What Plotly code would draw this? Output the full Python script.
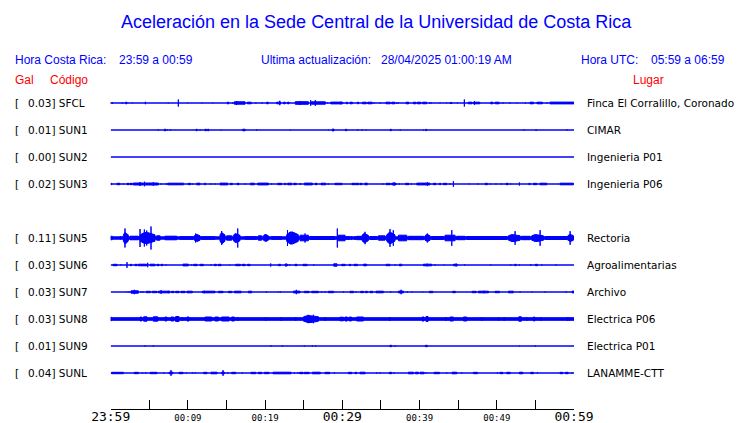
import plotly.graph_objects as go

# ---------------- data ----------------
TITLE = "Aceleración en la Sede Central de la Universidad de Costa Rica"
HORA_CR = "23:59 a 00:59"
ACTUALIZACION = "28/04/2025 01:00:19 AM"
HORA_UTC = "05:59 a 06:59"

CODES = ["SFCL", "SUN1", "SUN2", "SUN3", "SUN4", "SUN5", "SUN6", "SUN7", "SUN8", "SUN9", "SUNL"]
PEAK_GAL = [0.03, 0.01, 0.00, 0.02, None, 0.11, 0.03, 0.03, 0.03, 0.01, 0.04]
PLACES = ["Finca El Corralillo, Coronado", "CIMAR", "Ingenieria P01", "Ingenieria P06", None,
          "Rectoria", "Agroalimentarias", "Archivo", "Electrica P06", "Electrica P01", "LANAMME-CTT"]
# background noise level of each record (relative amplitude)
NOISE = [0.3, 0.3, 0.3, 0.3, None, 1.7, 0.3, 0.3, 1.8, 0.3, 0.3]

# minutes after 23:59 (start, end, relative amplitude) of each burst of motion
SFCL = [(0.0, 0.0, 1.3), (0.21, 0.21, 1.3), (1.51, 1.51, 1), (1.94, 2.1, 1.3), (2.8, 2.8, 0.8),
        (4.49, 4.49, 1.7), (7.46, 7.46, 0.8), (8.76, 8.76, 4), (9.97, 9.97, 0.8), (11.8, 11.8, 0.8),
        (13.2, 13.2, 0.8), (15.1, 15.3, 1.3), (15.8, 15.8, 1), (16.0, 17.4, 1.7), (16.3, 16.3, 2.5),
        (17.7, 18.2, 1.3), (18.8, 18.8, 1), (19.6, 19.6, 1), (20.2, 20.4, 1.3), (21.5, 22.0, 1.3),
        (21.9, 21.9, 2.7), (22.4, 22.6, 1.3), (22.9, 23.1, 1.3), (23.9, 25.6, 1.8), (24.5, 24.5, 2.5),
        (25.9, 25.9, 3.3), (26.5, 26.5, 3.3), (26.0, 27.8, 1.7), (28.1, 28.1, 1), (28.5, 29.9, 1.4),
        (29.7, 30.05, 1.3), (30.5, 30.65, 1.3), (31.0, 31.3, 1.3), (31.95, 32.1, 1.3), (32.6, 33.1, 1.3),
        (33.3, 33.85, 1.3), (34.1, 34.1, 1), (34.9, 34.9, 1), (35.65, 36.2, 1.3), (36.4, 36.8, 1.3),
        (37.05, 37.05, 1), (37.25, 37.25, 1), (38.25, 38.6, 1.3), (39.2, 39.5, 1.3), (39.7, 40.15, 1.3),
        (40.4, 40.9, 1.3), (41.3, 41.3, 1), (41.5, 41.5, 1), (42.65, 42.65, 0.8), (43.5, 43.5, 0.8),
        (43.95, 44.2, 1), (44.9, 44.9, 0.8), (45.8, 45.8, 4), (46.3, 46.8, 1.3), (47.0, 47.8, 1.3),
        (47.1, 47.1, 2.3), (49.2, 49.5, 1.3), (49.8, 50.3, 1.3), (50.8, 50.8, 1), (51.7, 51.7, 1),
        (52.6, 52.6, 0.8), (53.7, 53.7, 1), (54.3, 54.75, 1.3), (55.2, 55.9, 1.3), (56.5, 56.5, 1),
        (56.9, 60.0, 1.4)]

SUN1 = [(6.17, 6.17, 1), (6.95, 7.12, 1.3), (7.34, 7.34, 1), (7.72, 7.72, 1), (11.05, 11.2, 1.2),
        (11.57, 11.57, 1), (12.2, 12.4, 1.2), (12.56, 12.7, 1.3), (14.3, 14.3, 0.8), (17.1, 17.4, 1.3),
        (18.9, 18.9, 1), (23.3, 23.3, 0.8), (28.2, 28.2, 0.8), (28.7, 28.9, 1.5),
        (30.4, 30.57, 1.2), (32.0, 32.0, 1), (32.55, 32.55, 1), (33.07, 33.07, 0.8), (36.2, 36.35, 1.2),
        (37.5, 37.5, 1), (40.5, 40.5, 0.8), (40.8, 40.9, 1.2), (53.5, 53.5, 1), (55.0, 55.2, 0.8),
        (59.1, 59.1, 1)]

SUN2 = []

SUN3 = [(0.0, 0.13, 1.2), (0.82, 1.2, 1.2), (1.64, 1.64, 1), (2.11, 2.37, 1.2), (2.5, 2.8, 1.2),
        (2.93, 4.23, 1.5), (3.8, 3.8, 2.5), (4.36, 4.36, 2.8), (4.36, 6.17, 1.5), (5.52, 5.52, 2.2),
        (6.52, 6.52, 1), (7.16, 7.16, 1), (7.38, 9.45, 1.3), (10.05, 10.31, 1.2), (10.57, 10.57, 1),
        (11.13, 11.57, 1.3), (12.13, 12.3, 1.2), (12.99, 12.99, 1), (13.5, 13.5, 1), (14.16, 15.15, 1.4),
        (15.5, 15.75, 1.2), (16.36, 16.62, 1.2), (17.4, 17.4, 1), (18.09, 18.6, 1.3), (19.04, 20.42, 1.4),
        (20.85, 20.85, 1), (21.63, 22.15, 1.2), (22.49, 22.66, 1.2), (22.92, 23.44, 1.3), (23.7, 24.04, 1.2),
        (24.5, 24.6, 1), (25.08, 26.12, 1.4), (26.46, 26.72, 1.2), (27.24, 27.85, 1.3), (28.19, 28.19, 1),
        (29.05, 29.66, 1.2),
        (29.7, 29.96, 1.2), (31.25, 31.6, 1.2), (31.69, 32.12, 1.2), (32.3, 32.55, 1.2), (32.9, 33.25, 1.3),
        (35.23, 35.23, 1), (35.67, 36.2, 1.2), (36.4, 36.96, 1.3), (36.7, 36.7, 2.2), (37.39, 37.39, 1),
        (38.17, 38.6, 1.2), (38.94, 38.94, 1), (39.64, 41.35, 1.4), (41.0, 41.0, 2.2), (41.78, 42.13, 1.2),
        (42.56, 42.74, 1.2), (43.09, 43.52, 1.2), (43.95, 43.95, 1), (44.38, 44.38, 3.3), (46.45, 46.45, 0.8),
        (47.58, 47.58, 1), (48.5, 48.79, 1.2), (49.13, 49.13, 1), (49.91, 49.91, 1), (50.6, 50.6, 1),
        (51.2, 51.47, 1.2), (51.8, 51.8, 1), (52.93, 52.93, 2), (54.15, 54.3, 1.2), (54.75, 55.18, 1.2),
        (55.6, 56.47, 1.3), (58.2, 59.9, 1.3)]

SUN4 = None

SUN5 = [(0.0, 0.2, 2.3), (1.2, 1.33, 1.7), (1.64, 2.28, 6), (1.85, 1.85, 10), (2.5, 3.58, 2.3),
        (3.8, 3.8, 9.5), (3.8, 5.74, 6), (4.36, 4.36, 9), (4.66, 4.66, 8), (5.22, 5.22, 12),
        (5.95, 6.4, 2.7), (7.03, 8.55, 2.3), (8.98, 10.7, 1.8), (10.83, 11.57, 4), (11.0, 11.0, 5),
        (11.78, 13.5, 1.8), (14.16, 14.8, 6), (14.37, 14.37, 7.5), (15.02, 15.67, 2.7), (15.88, 16.75, 5),
        (16.45, 16.45, 10), (17.4, 18.9, 1.8), (19.12, 19.55, 2.7), (19.77, 20.42, 4), (20.85, 22.15, 1.8),
        (22.79, 24.3, 6.5), (22.9, 22.9, 8.5), (24.52, 25.6, 3.3), (25.17, 25.17, 5), (25.8, 29.05, 2),
        (29.35, 29.35, 10), (29.48, 30.35, 3.3),
        (29.7, 30.13, 1.8), (30.22, 31.0, 1.8), (31.2, 31.2, 2.5), (31.65, 31.65, 2.5), (31.86, 32.51, 2.2),
        (32.55, 33.37, 5), (32.94, 32.94, 6.7), (33.59, 34.45, 2), (34.67, 35.53, 2.7), (35.74, 36.82, 6),
        (36.17, 36.17, 9.3), (36.6, 36.6, 8.3), (37.26, 38.34, 3.3), (38.56, 40.5, 2.2), (40.71, 41.36, 4),
        (41.01, 41.01, 5), (41.58, 43.09, 2), (43.3, 44.6, 3.3), (44.17, 44.17, 8.3), (44.81, 45.89, 2.2),
        (46.11, 51.29, 2), (51.51, 53.02, 4), (52.37, 52.37, 7.3), (53.23, 54.31, 2.2), (54.53, 56.04, 4),
        (55.61, 55.61, 8.3), (56.26, 59.07, 2), (59.2, 59.93, 4), (59.5, 59.5, 7.3)]

SUN6 = [(0.3, 0.82, 1.2), (1.33, 1.33, 1), (2.11, 2.11, 3.3), (2.54, 2.72, 1.2), (3.15, 3.41, 1.2),
        (3.58, 4.66, 1.3), (4.79, 4.79, 2.7), (5.09, 5.74, 1.3), (6.0, 6.26, 1.2), (6.52, 6.73, 1.2),
        (7.16, 7.16, 1), (9.36, 10.05, 1.4), (10.49, 10.49, 1), (10.75, 11.18, 1.2), (11.57, 12.0, 1.2),
        (12.99, 12.99, 1), (13.42, 13.68, 1.2), (13.94, 14.29, 1.2), (15.41, 15.41, 0.8), (16.19, 16.79, 1.2),
        (17.05, 17.4, 1.2), (17.74, 18.04, 1.2), (20.72, 20.72, 2), (21.71, 22.01, 1.2), (22.58, 22.92, 1.2),
        (22.7, 22.7, 2), (23.18, 23.18, 1), (23.87, 24.13, 1.2), (24.91, 25.43, 1.2), (26.29, 26.29, 1),
        (28.88, 29.31, 1.7), (29.92, 30.35, 1.2),
        (30.91, 31.08, 1.2), (31.52, 31.95, 1.2), (32.73, 33.16, 1.2), (32.94, 32.94, 1.7), (35.67, 36.17, 1.2),
        (36.83, 36.83, 1), (37.39, 37.69, 1.3), (40.5, 41.58, 1.3), (41.0, 41.0, 1.8), (42.0, 42.0, 1),
        (43.17, 43.17, 0.8), (44.38, 44.9, 1.2), (44.73, 44.73, 2), (45.85, 45.85, 1), (49.22, 49.22, 1),
        (51.81, 51.81, 1), (52.33, 52.5, 1.2), (52.93, 52.93, 1), (54.4, 54.4, 1.2), (55.0, 55.27, 1.2),
        (55.83, 55.83, 1), (57.68, 57.68, 1)]

SUN7 = [(2.07, 2.07, 0.8), (2.37, 2.37, 1), (2.63, 3.58, 1.7), (3.06, 3.06, 2.7), (3.92, 3.92, 1),
        (4.18, 4.18, 1), (4.61, 5.13, 1.2), (5.39, 5.95, 1.2), (6.17, 7.68, 1.3), (6.52, 6.52, 2.3),
        (7.46, 7.46, 1.7), (7.9, 8.16, 1.2), (8.41, 8.85, 1.2), (9.1, 9.62, 1.2), (9.88, 10.57, 1.3),
        (11.87, 13.51, 1.3), (12.13, 12.13, 1.7), (13.94, 14.55, 1.2), (15.24, 15.67, 1.2), (16.02, 16.88, 1.3),
        (17.83, 18.26, 1.3), (20.16, 20.16, 1), (21.71, 21.71, 0.8), (21.97, 21.97, 1), (23.66, 24.52, 1.4),
        (24.04, 24.04, 2.7), (25.08, 25.69, 1.2), (26.03, 26.9, 1.2), (27.33, 27.33, 1), (27.76, 27.76, 1),
        (28.19, 28.88, 1.2),
        (30.13, 30.13, 1), (30.99, 31.43, 1.2), (31.77, 31.77, 1), (32.38, 32.72, 1.2), (32.98, 33.24, 1.2),
        (33.59, 33.93, 1.2), (34.37, 35.31, 1.3), (36.26, 36.26, 1), (37.26, 37.91, 1.4), (37.6, 37.6, 2.7),
        (38.42, 38.42, 1), (39.03, 39.03, 0.8), (40.41, 40.41, 0.8), (41.27, 41.71, 1.2), (44.29, 44.64, 1.2),
        (46.8, 47.32, 1.2), (47.62, 48.92, 1.3), (48.35, 48.35, 1.7), (49.78, 50.34, 1.2), (51.51, 52.15, 1.3),
        (53.02, 53.02, 1), (54.57, 54.57, 0.8), (56.26, 56.26, 1), (58.98, 58.98, 1), (59.75, 60.0, 1.4)]

SUN8 = [(0.0, 0.1, 2.3), (3.8, 4.01, 2.5), (4.27, 4.7, 2.7), (5.52, 6.09, 2.7), (7.03, 7.25, 2.5),
        (7.81, 8.16, 2.5), (8.41, 8.85, 3), (9.28, 9.28, 2.5), (9.88, 10.14, 2.5), (12.22, 13.08, 2.5),
        (13.51, 13.94, 2.5), (14.37, 15.32, 2.5), (15.67, 16.02, 2.5), (16.45, 16.45, 2.5), (20.07, 20.07, 2.5),
        (22.06, 22.06, 2.3), (23.96, 23.96, 2.3), (24.99, 26.9, 4), (25.6, 25.6, 4.7), (26.25, 26.25, 4.7),
        (27.76, 27.76, 2.5),
        (29.7, 30.13, 2.3), (30.35, 30.65, 2.5), (30.91, 31.17, 2.5), (31.86, 32.73, 2.5), (36.17, 36.17, 2.5),
        (40.32, 40.58, 2.5), (40.84, 41.1, 3), (43.43, 43.43, 2.5), (43.95, 44.38, 2.5), (45.68, 46.11, 2.5),
        (48.05, 48.05, 2.3), (50.21, 50.21, 2.3), (50.95, 50.95, 2.3), (52.85, 53.19, 2.7), (53.88, 53.88, 2.3),
        (54.75, 54.92, 2.5), (55.7, 55.7, 2.3), (59.15, 59.15, 2.5), (59.41, 59.41, 2.5)]

SUN9 = [(4.44, 4.44, 1), (5.52, 5.52, 1), (20.77, 20.77, 1), (22.23, 22.23, 1), (25.08, 25.08, 1),
        (26.12, 26.12, 1), (26.55, 26.55, 1),
        (36.17, 36.39, 1.2), (36.83, 36.83, 1), (40.75, 41.0, 1.2), (52.93, 52.93, 0.8), (55.0, 55.0, 1)]

SUNL = [(0.12, 1.64, 1.2), (3.06, 3.58, 1.2), (4.1, 4.1, 1), (4.53, 4.53, 1), (5.13, 5.99, 1.2),
        (6.86, 6.86, 1), (7.55, 8.07, 1.3), (7.81, 7.81, 3.3), (8.85, 9.36, 1.2), (9.8, 9.8, 1),
        (10.57, 10.57, 1), (10.92, 10.92, 1), (12.04, 12.47, 1.2), (12.99, 13.77, 1.3), (14.37, 14.72, 1.3),
        (14.55, 14.55, 3.3), (15.15, 15.15, 1), (15.67, 16.19, 1.2), (17.05, 17.05, 1), (18.17, 18.78, 1.2),
        (19.12, 19.55, 1.2), (19.9, 20.5, 1.2), (21.02, 23.35, 1.3), (23.79, 23.79, 1), (24.22, 24.22, 1),
        (24.48, 24.91, 1.2), (25.08, 25.69, 1.2), (26.12, 27.15, 1.3), (27.76, 28.36, 1.2), (28.97, 28.97, 1),
        (30.78, 31.21, 1.2), (31.65, 31.86, 1.2), (32.29, 32.94, 1.3), (34.45, 34.45, 1), (34.88, 34.88, 1),
        (36.09, 36.39, 1.2), (36.69, 36.69, 1), (38.55, 39.2, 1.3), (39.46, 39.85, 1.3), (40.07, 40.58, 1.3),
        (40.84, 40.84, 1), (41.88, 42.57, 1.2), (43.52, 43.52, 1), (44.21, 44.81, 1.3), (45.46, 45.46, 1),
        (46.97, 47.49, 1.2), (50.08, 50.08, 1), (50.43, 50.77, 1.2), (51.3, 51.73, 1.2), (52.93, 53.36, 1.3),
        (54.4, 54.75, 1.2), (55.27, 55.27, 1), (58.2, 58.55, 1.2), (58.89, 59.24, 1.2), (59.75, 59.75, 1)]

BURSTS = [SFCL, SUN1, SUN2, SUN3, SUN4, SUN5, SUN6, SUN7, SUN8, SUN9, SUNL]

TICK_MINUTES = [0, 5, 10, 15, 20, 25, 30, 35, 40, 45, 50, 55, 60]
TICK_LABELS = ["23:59", "", "00:09", "", "00:19", "", "00:29", "", "00:39", "", "00:49", "", "00:59"]
MAJOR_LABELS = ["23:59", "00:29", "00:59"]

# ---------------- figure ----------------
W, H = 740, 423
BLUE = "#0000FF"
RED = "#FF0000"
ROW_PX = 27.0              # vertical spacing of the records in pixels
AMP_SCALE = 1.0 / ROW_PX   # relative amplitude unit -> row units
STROKE = 0.5               # half of outline width, in amplitude units
PAD = 2                    # annotation inner padding in px

fig = go.Figure()

for i, code in enumerate(CODES):
    if BURSTS[i] is None:
        continue
    y0 = -i
    xs, ys = [], []

    def rect(s, e, a):
        a = max(a - STROKE, 0.0) * AMP_SCALE
        xs.extend([s, e, e, s, s, None])
        ys.extend([y0 - a, y0 - a, y0 + a, y0 + a, y0 - a, None])

    def spindle(s, e, a):
        # emergent burst envelope: grows to its peak, then decays
        b = max(NOISE[i] - STROKE, 0.0) * AMP_SCALE
        a = max(a - STROKE, 0.0) * AMP_SCALE
        m1 = s + 0.3 * (e - s)
        m2 = s + 0.5 * (e - s)
        lo = b + 0.45 * (a - b)
        xs.extend([s, m1, m2, e, e, m2, m1, s, s, None])
        ys.extend([y0 - lo, y0 - a, y0 - a, y0 - lo, y0 + lo, y0 + a, y0 + a, y0 + lo, y0 - lo, None])

    rect(0, 60, NOISE[i])
    for (s, e, a) in BURSTS[i]:
        if a >= 3.5 and e - s > 0.3:
            spindle(s, e, a)
        else:
            rect(s, e, a)
    fig.add_trace(go.Scatter(x=xs, y=ys, mode="lines", fill="toself", fillcolor=BLUE,
                             line=dict(color=BLUE, width=1), hoverinfo="skip",
                             showlegend=False, connectgaps=False))

ticktext = []
for t in TICK_LABELS:
    if t in MAJOR_LABELS:
        ticktext.append("<span style='font-size:13px'>%s</span>" % t)
    else:
        ticktext.append(t)

x0_px, x1_px = 110.7, 574.0
axis_px = 409.0
top_px = 88.0
first_row_px = 103.0
fig.update_layout(
    template="none",
    width=W, height=H, autosize=False,
    margin=dict(l=0, r=0, t=0, b=0, pad=0, autoexpand=False),
    paper_bgcolor="white", plot_bgcolor="white",
    showlegend=False,
    xaxis=dict(domain=[x0_px / W, x1_px / W], range=[0, 60], tickmode="array",
               tickvals=TICK_MINUTES, ticktext=ticktext, showgrid=False, zeroline=False,
               showline=True, linecolor="black", linewidth=1, ticks="inside", ticklen=9,
               tickwidth=1, tickcolor="black", automargin=False,
               tickfont=dict(family="DejaVu Sans Mono", size=9, color="black"),
               fixedrange=True),
    yaxis=dict(domain=[1 - axis_px / H, 1 - top_px / H],
               range=[-(axis_px - first_row_px) / ROW_PX, (first_row_px - top_px) / ROW_PX],
               visible=False, fixedrange=True, automargin=False),
)

ann = []


def txt(x_px, y_px, text, size, color, family, anchor="left"):
    xp = x_px - PAD if anchor == "left" else x_px
    ann.append(dict(x=xp / W, y=1 - y_px / H, xref="paper", yref="paper", text=text,
                    showarrow=False, xanchor=anchor, yanchor="middle",
                    font=dict(size=size, color=color, family=family)))


SANS = "Liberation Sans, Arial, sans-serif"
DEJA = "DejaVu Sans, sans-serif"
txt(376, 22, TITLE, 18, BLUE, SANS, "center")
txt(15, 60, "Hora Costa Rica:", 12, BLUE, SANS)
txt(119, 60, HORA_CR, 12, BLUE, SANS)
txt(261, 60, "Ultima actualización:", 12, BLUE, SANS)
txt(381, 60, ACTUALIZACION, 12, BLUE, SANS)
txt(581, 60, "Hora UTC:", 12, BLUE, SANS)
txt(651, 60, HORA_UTC, 12, BLUE, SANS)
txt(15, 80, "Gal", 12, RED, SANS)
txt(50, 80, "Código", 12, RED, SANS)
txt(633, 80, "Lugar", 12, RED, SANS)

for i, code in enumerate(CODES):
    if BURSTS[i] is None:
        continue
    for x_px, text in [(15, "["), (28, "%.2f] %s" % (PEAK_GAL[i], code)), (587, PLACES[i])]:
        ann.append(dict(x=(x_px - PAD) / W, y=-i, xref="paper", yref="y", text=text, showarrow=False,
                        xanchor="left", yanchor="middle",
                        font=dict(size=10.5, color="black", family=DEJA)))

fig.update_layout(annotations=ann)
fig.write_html("out.html", config={"displayModeBar": False},
               post_script="document.body.style.margin='0px';")
